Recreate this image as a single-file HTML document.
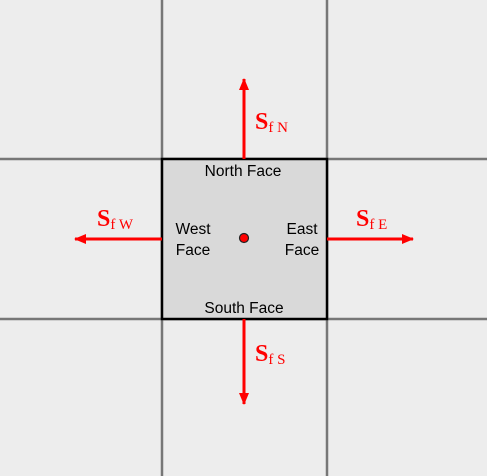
<!DOCTYPE html>
<html><head><meta charset="utf-8"><style>
body{margin:0;background:#ededed;}
svg{display:block}
.t{font-family:"Liberation Sans","DejaVu Sans",sans-serif;font-size:15.5px;fill:#000}
.s{font-family:"Liberation Serif",serif;fill:#ff0000}
</style></head><body>
<svg width="487" height="476" viewBox="0 0 487 476">
<defs><marker id="ah" markerWidth="12" markerHeight="10" refX="11" refY="5" orient="auto" markerUnits="userSpaceOnUse"><path d="M0,0 L12,5 L0,10 Z" fill="#ff0000"/></marker></defs>
<rect width="487" height="476" fill="#ededed"/>
<g stroke="#777" stroke-width="2.5">
<line x1="162" y1="0" x2="162" y2="476"/><line x1="327" y1="0" x2="327" y2="476"/>
<line x1="0" y1="159" x2="487" y2="159"/><line x1="0" y1="319" x2="487" y2="319"/>
</g>
<rect x="162" y="159" width="165" height="160" fill="#d9d9d9" stroke="#000" stroke-width="2.5"/>
<circle cx="244" cy="238" r="4.5" fill="#ff0000" stroke="#222" stroke-width="1.2"/>
<g stroke="#ff0000" stroke-width="3" marker-end="url(#ah)">
<line x1="244" y1="159" x2="244" y2="79"/>
<line x1="244" y1="319" x2="244" y2="404"/>
<line x1="162" y1="239" x2="75" y2="239"/>
<line x1="327" y1="239" x2="413" y2="239"/>
</g>
<text class="t" x="243" y="176" text-anchor="middle">North Face</text>
<text class="t" x="244" y="313" text-anchor="middle">South Face</text>
<text class="t" x="193" y="234" text-anchor="middle"><tspan x="193">West</tspan><tspan x="193" dy="21">Face</tspan></text>
<text class="t" x="302" y="234" text-anchor="middle"><tspan x="302">East</tspan><tspan x="302" dy="21">Face</tspan></text>
<text class="s" x="255" y="129"><tspan font-size="24" font-weight="bold">S</tspan><tspan font-size="15" dy="3">f N</tspan></text>
<text class="s" x="255" y="361"><tspan font-size="24" font-weight="bold">S</tspan><tspan font-size="15" dy="3">f S</tspan></text>
<text class="s" x="97" y="226"><tspan font-size="24" font-weight="bold">S</tspan><tspan font-size="15" dy="3">f W</tspan></text>
<text class="s" x="356" y="226"><tspan font-size="24" font-weight="bold">S</tspan><tspan font-size="15" dy="3">f E</tspan></text>
</svg>
</body></html>
